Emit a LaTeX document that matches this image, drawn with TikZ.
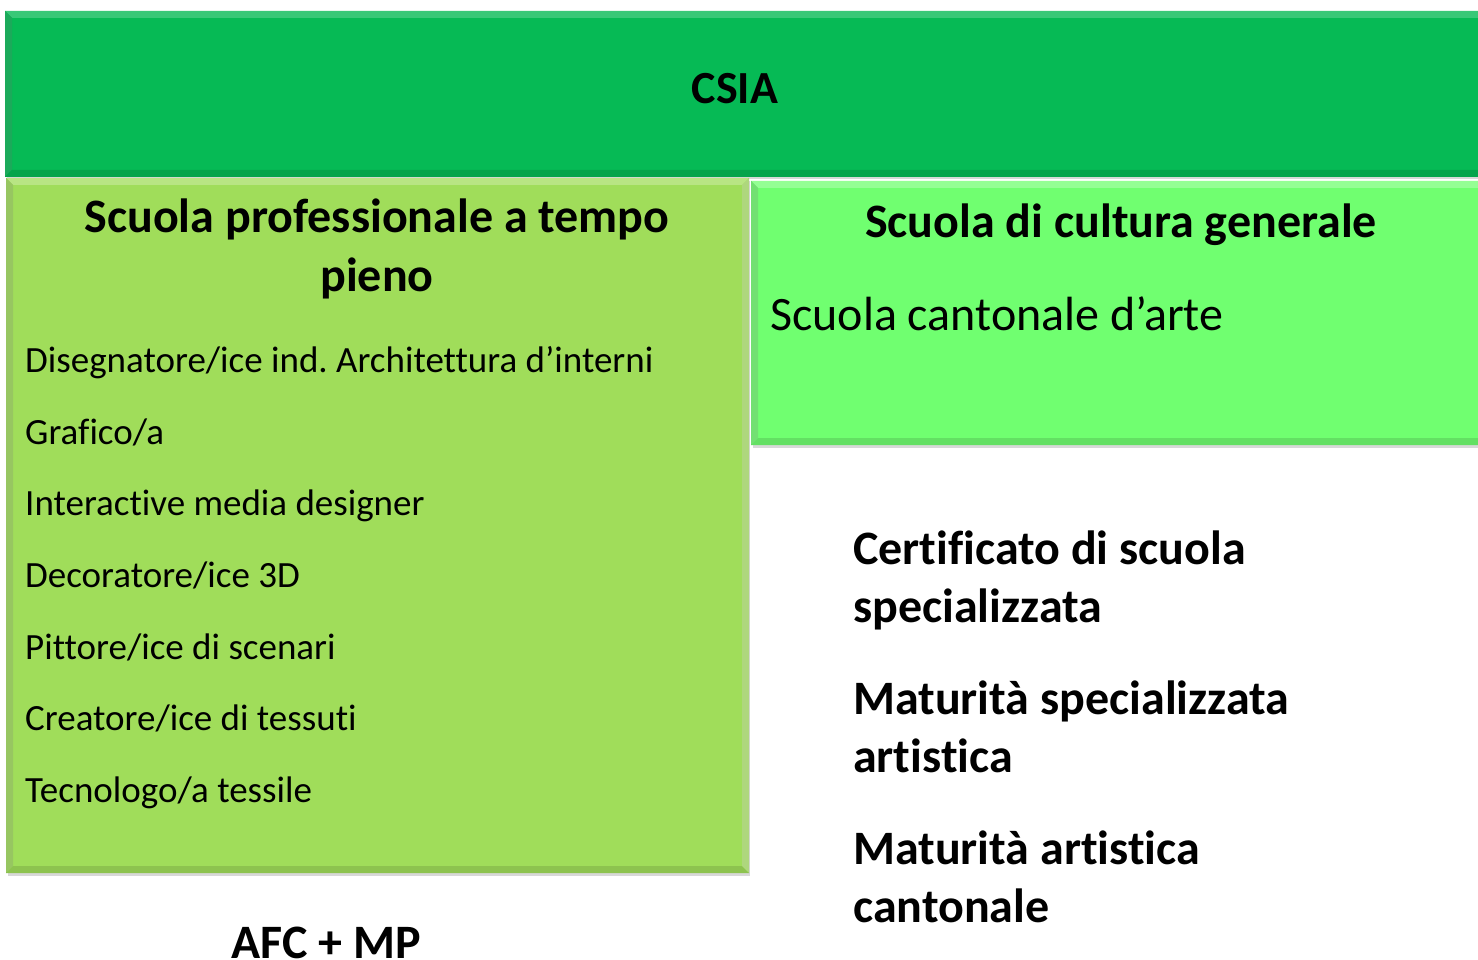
\documentclass[tikz,border=0pt]{standalone}
\usepackage{fontspec}
\setmainfont[Ligatures={NoCommon}]{Carlito}
\usetikzlibrary{calc,shadows}
\definecolor{csiagreen}{RGB}{6,186,85}
\definecolor{leftgreen}{RGB}{160,221,90}
\definecolor{rightgreen}{RGB}{112,255,112}
\frenchspacing
\newcommand{\bevelbox}[3]{%
  \fill[#2] (#1.north west) -- (#1.north east) -- ($(#1.north east)+(-7,7)$) -- ($(#1.north west)+(7,7)$) -- cycle;
  \fill[#2!50!#3] (#1.north west) -- ($(#1.north west)+(7,7)$) -- ($(#1.south west)+(7,-7)$) -- (#1.south west) -- cycle;
  \fill[#3] (#1.south west) -- ($(#1.south west)+(7,-7)$) -- ($(#1.south east)+(-7,-7)$) -- (#1.south east) -- cycle;
  \fill[#3!70!#2] (#1.north east) -- (#1.south east) -- ($(#1.south east)+(-7,-7)$) -- ($(#1.north east)+(-7,7)$) -- cycle;
}
\begin{document}
\begin{tikzpicture}[x=1pt,y=-1pt,
  panel/.style={anchor=north west, inner sep=0pt, line width=1pt,
    drop shadow={opacity=0.3, shadow xshift=1pt, shadow yshift=-3pt}},
  head/.style={anchor=base, inner sep=0pt, font=\fontsize{48}{56}\selectfont\bfseries},
  item/.style={anchor=base west, inner sep=0pt, font=\fontsize{37}{44}\selectfont},
  big/.style={anchor=base west, inner sep=0pt, font=\fontsize{48}{56}\selectfont},
  bighead/.style={anchor=base west, inner sep=0pt, font=\fontsize{48}{56}\selectfont\bfseries}]
\useasboundingbox (0,0) rectangle (1478,960);
\fill[white] (0,0) rectangle (1478,960);
\clip (0,0) rectangle (1478,960);
% panels
\node[panel, fill=csiagreen, draw=csiagreen!80!black, minimum width=1490pt, minimum height=165pt] (csia) at (5,11) {};
\bevelbox{csia}{csiagreen!80!white}{csiagreen!88!black}
\node[panel, fill=rightgreen, draw=rightgreen!70!black, minimum width=740pt, minimum height=263pt] (right) at (751,181) {};
\bevelbox{right}{rightgreen!75!white}{rightgreen!88!black}
\node[panel, fill=leftgreen, draw=leftgreen!70!black, minimum width=742pt, minimum height=694pt] (left) at (6,178) {};
\bevelbox{left}{leftgreen!75!white}{leftgreen!88!black}
% texts
\node[head, font=\fontsize{46}{54}\selectfont\bfseries] (csiat) at (735,104) {CSIA};
\node[head] (lh1) at (377,233) {Scuola professionale a tempo};
\node[head] (lh2) at (377,291) {pieno};
\node[item] (i1) at (25,372) {Disegnatore/ice ind. Architettura d’interni};
\node[item] (i2) at (25,444) {Grafico/a};
\node[item] (i3) at (25,515) {Interactive media designer};
\node[item] (i4) at (25,587) {Decoratore/ice 3D};
\node[item] (i5) at (25,659) {Pittore/ice di scenari};
\node[item] (i6) at (25,730) {Creatore/ice di tessuti};
\node[item] (i7) at (25,802) {Tecnologo/a tessile};
\node[head] (rh) at (1121,238) {Scuola di cultura generale};
\node[big] (rs) at (770,330) {Scuola cantonale d’arte};
\node[bighead] (c1) at (853,564) {Certificato di scuola};
\node[bighead] (c2) at (853,622) {specializzata};
\node[bighead] (m1) at (853,714) {Maturità specializzata};
\node[bighead] (m2) at (853,772) {artistica};
\node[bighead] (a1) at (853,864) {Maturità artistica};
\node[bighead] (a2) at (853,922) {cantonale};
\node[head] (afc) at (326,958) {AFC + MP};
\end{tikzpicture}
\end{document}
